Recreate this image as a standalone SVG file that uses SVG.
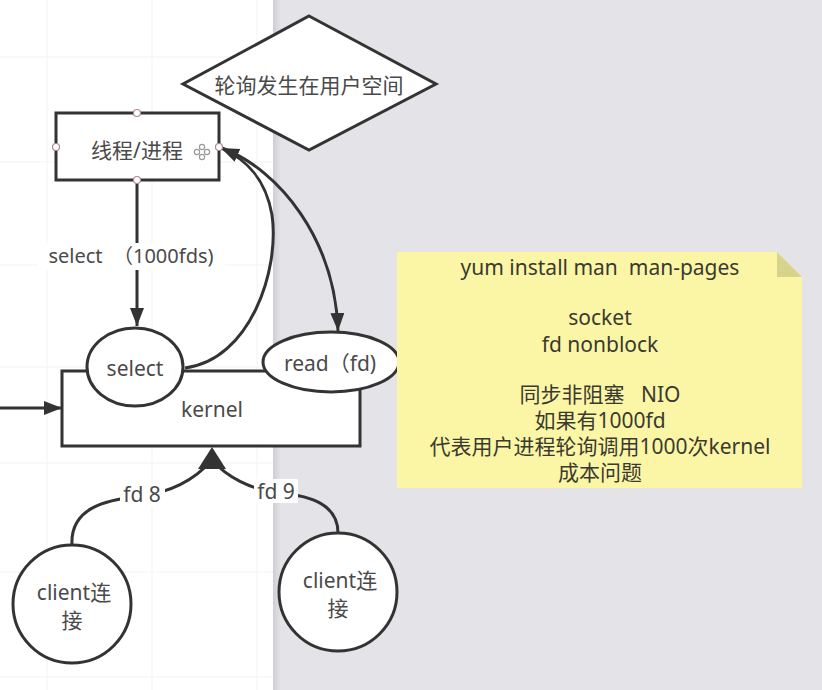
<svg xmlns="http://www.w3.org/2000/svg" width="822" height="690" viewBox="0 0 822 690">
<defs>
<style>
.t{font-family:"Noto Sans","Noto Sans CJK SC",sans-serif;fill:#4a4a4a;text-anchor:middle}
.shape{fill:#fff;stroke:#333;stroke-width:3}
.conn{fill:none;stroke:#333;stroke-width:3}
.grid{stroke:#f3f3f3;stroke-width:1}
.dot{fill:#fff;stroke:#b08a90;stroke-width:1.2}
.note{font-family:"Noto Sans","Noto Sans CJK SC",sans-serif;fill:#3a3a30;text-anchor:middle;font-size:21px}
</style>
<marker id="arr" markerUnits="userSpaceOnUse" markerWidth="20" markerHeight="16" refX="18" refY="7" orient="auto">
<path d="M0,0 L18,7 L0,14 z" fill="#333"/>
</marker>
<linearGradient id="edge" x1="0" x2="1" y1="0" y2="0">
<stop offset="0" stop-color="#cfcfd3"/>
<stop offset="1" stop-color="#e4e4e8"/>
</linearGradient>
</defs>
<g id="background">
<rect x="0" y="0" width="274" height="690" fill="#ffffff"/>
<g class="grid">
<line x1="47" y1="0" x2="47" y2="690"/>
<line x1="152" y1="0" x2="152" y2="690"/>
<line x1="257" y1="0" x2="257" y2="690"/>
<line x1="0" y1="57" x2="274" y2="57"/>
<line x1="0" y1="162" x2="274" y2="162"/>
<line x1="0" y1="265" x2="274" y2="265"/>
<line x1="0" y1="367" x2="274" y2="367"/>
<line x1="0" y1="463" x2="274" y2="463"/>
<line x1="0" y1="572" x2="274" y2="572"/>
<line x1="0" y1="677" x2="274" y2="677"/>
</g>
<rect x="273" y="0" width="549" height="690" fill="#e4e4e8"/>
<rect x="273" y="0" width="8" height="690" fill="url(#edge)"/>
</g>

<g id="connectors">
<path class="conn" d="M137,180 L137,326" marker-end="url(#arr)"/>
<path class="conn" d="M185,368 C250,360 280,270 272,215 C266,180 248,160 221,148" marker-end="url(#arr)"/>
<path class="conn" d="M222,148 C280,170 335,240 338,331" marker-end="url(#arr)"/>
<path class="conn" d="M0,408 L62,408" marker-end="url(#arr)"/>
<path class="conn" d="M72,545 C70,508 105,500 140,496 C175,492 198,476 212,460"/>
<path class="conn" d="M338,533 C338,505 312,496 280,493 C250,490 226,476 212,460"/>
<polygon points="212,447 198,469 226,469" fill="#333"/>
<rect x="38" y="243" width="187" height="27" fill="#fff"/>
<text class="t" x="131" y="263" font-size="20" xml:space="preserve">select  （1000fds)</text>
<rect x="120" y="483" width="45" height="24" fill="#fff"/>
<text class="t" x="142" y="502" font-size="21">fd 8</text>
<rect x="254" y="479" width="44" height="24" fill="#fff"/>
<text class="t" x="276" y="499" font-size="21">fd 9</text>
</g>

<g id="diamond">
<polygon class="shape" points="309,16 436,84 309,150 183,84" stroke-width="2.5"/>
<text class="t" x="309" y="93" font-size="21">轮询发生在用户空间</text>
</g>

<g id="thread">
<rect class="shape" x="56" y="113" width="163" height="67"/>
<text class="t" x="137" y="158" font-size="21">线程/进程</text>
<g fill="none" stroke="#999" stroke-width="1.2">
<circle cx="202" cy="147" r="2.6"/>
<circle cx="202" cy="157" r="2.6"/>
<circle cx="197" cy="152" r="2.6"/>
<circle cx="207" cy="152" r="2.6"/>
</g>
<circle class="dot" cx="137" cy="113" r="3.5"/>
<circle class="dot" cx="56" cy="147" r="3.5"/>
<circle class="dot" cx="219" cy="147" r="3.5"/>
<circle class="dot" cx="137" cy="180" r="3.5"/>
</g>

<g id="kernel">
<rect class="shape" x="62" y="371" width="298" height="75"/>
<text class="t" x="212" y="417" font-size="21">kernel</text>
</g>

<g id="select">
<ellipse class="shape" cx="135" cy="367" rx="48" ry="39"/>
<text class="t" x="135" y="376" font-size="21">select</text>
</g>

<g id="read">
<ellipse class="shape" cx="331" cy="362" rx="68" ry="30"/>
<text class="t" x="330" y="371" font-size="21">read（fd)</text>
</g>

<g id="client1">
<circle class="shape" cx="72" cy="604" r="59"/>
<text class="t" x="74" y="600" font-size="21">client连</text>
<text class="t" x="72" y="628" font-size="21">接</text>
</g>

<g id="client2">
<circle class="shape" cx="338" cy="592" r="59"/>
<text class="t" x="340" y="588" font-size="21">client连</text>
<text class="t" x="338" y="616" font-size="21">接</text>
</g>

<g id="note">
<path d="M397,252 L777,252 L802,277 L802,488 L397,488 z" fill="#fbf6a6"/>
<path d="M777,252 L802,277 L777,277 z" fill="#d8d38a"/>
<text class="note" x="600" y="275" xml:space="preserve">yum install man  man-pages</text>
<text class="note" x="600" y="325">socket</text>
<text class="note" x="600" y="352">fd nonblock</text>
<text class="note" x="600" y="402" xml:space="preserve">同步非阻塞   NIO</text>
<text class="note" x="600" y="428">如果有1000fd</text>
<text class="note" x="600" y="454">代表用户进程轮询调用1000次kernel</text>
<text class="note" x="600" y="480">成本问题</text>
</g>
</svg>
